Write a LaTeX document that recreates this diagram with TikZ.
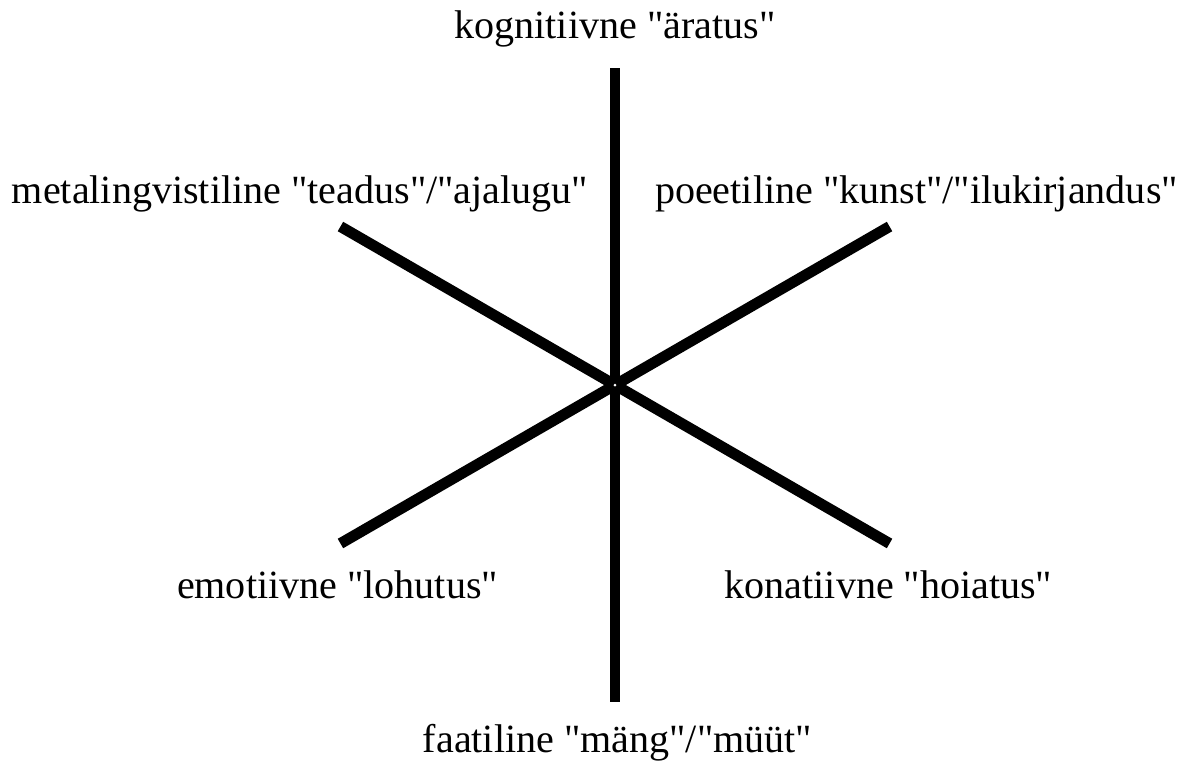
\documentclass[tikz,border=0pt]{standalone}
\usepackage{fontspec}
\setmainfont{Liberation Serif}[Ligatures=TeXOff]
\usetikzlibrary{positioning}

\begin{document}
\begin{tikzpicture}[x=1cm,y=1cm,every node/.style={font=\fontsize{11.4}{13}\selectfont,inner sep=0pt,anchor=base},
    spoke/.style={line width=3.1pt,line cap=butt}]
        \useasboundingbox (-6.15,-3.82) rectangle (5.63,3.85);
        \coordinate (c) at (0,0);
        \coordinate (up) at (90:3.17);
        \coordinate (down) at (270:3.17);
        \coordinate (ul) at (150:3.17);
        \coordinate (ur) at (30:3.17);
        \coordinate (ll) at (210:3.17);
        \coordinate (lr) at (330:3.17);
        \draw[spoke] (c) -- (up);
        \draw[spoke] (c) -- (down);
        \draw[spoke] (c) -- (ul);
        \draw[spoke] (c) -- (ur);
        \draw[spoke] (c) -- (ll);
        \draw[spoke] (c) -- (lr);
        \fill[white] (c) circle (0.015);
        \node (kogn) at (0,3.47) {kognitiivne "äratus"};
        \node (meta) at (-3.15,1.82) {metalingvistiline "teadus"/"ajalugu"};
        \node (poet) at (3.015,1.82) {poeetiline "kunst"/"ilukirjandus"};
        \node (emot) at (-2.775,-2.13) {emotiivne "lohutus"};
        \node (kona) at (2.735,-2.13) {konatiivne "hoiatus"};
        \node (faat) at (0.025,-3.67) {faatiline "mäng"/"müüt"};
      \end{tikzpicture}
\end{document}
